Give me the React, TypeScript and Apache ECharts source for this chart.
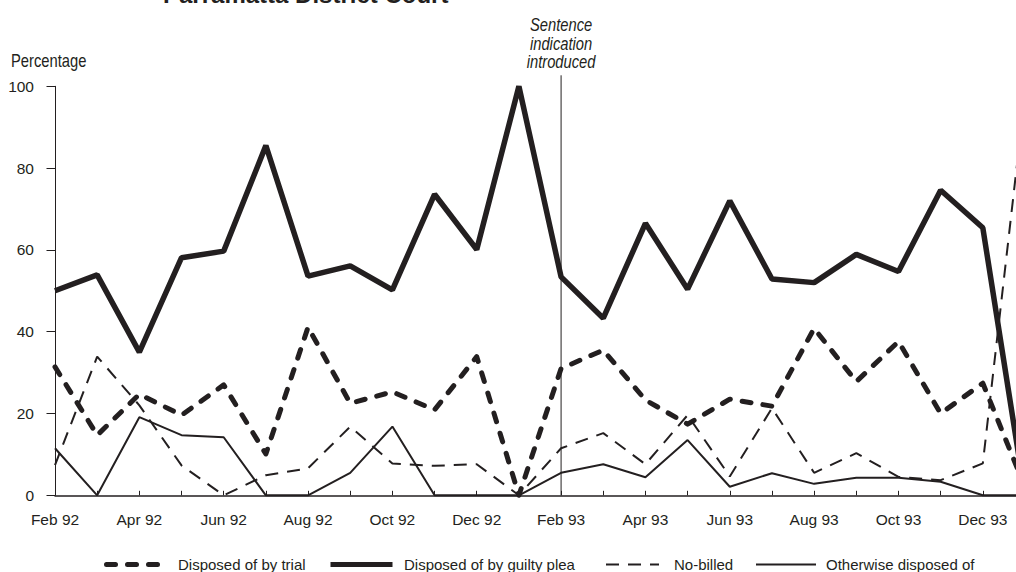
import React, { useEffect, useRef } from "react";
import * as echarts from "echarts";

const months = [
  "Feb 92", "Mar 92", "Apr 92", "May 92", "Jun 92", "Jul 92", "Aug 92", "Sep 92",
  "Oct 92", "Nov 92", "Dec 92", "Jan 93", "Feb 93", "Mar 93", "Apr 93", "May 93",
  "Jun 93", "Jul 93", "Aug 93", "Sep 93", "Oct 93", "Nov 93", "Dec 93", "Jan 94",
];
const trial = [31.4, 14.7, 24.7, 19.6, 27.0, 10.1, 41.1, 22.5, 25.3, 20.9, 33.9, 0,
  31.0, 35.5, 23.3, 17.4, 23.5, 21.8, 40.8, 27.8, 37.6, 20.0, 27.4, 2];
const guiltyPlea = [50.0, 53.9, 35.0, 58.1, 59.7, 85.5, 53.6, 56.1, 50.2, 73.6, 60.1, 100,
  53.4, 43.3, 66.5, 50.4, 72.0, 52.9, 52.0, 58.9, 54.7, 74.6, 65.4, 0];
const noBilled = [7.4, 33.9, 22.0, 7.3, 0, 4.9, 6.6, 16.8, 7.8, 7.2, 7.6, 0,
  11.5, 15.2, 7.6, 19.6, 4.6, 21.3, 5.5, 10.3, 4.5, 3.7, 7.8, 98];
const otherwise = [11.5, 0, 19.1, 14.7, 14.2, 0, 0, 5.5, 16.8, 0, 0, 0,
  5.5, 7.6, 4.4, 13.5, 2.1, 5.4, 2.8, 4.3, 4.3, 3.3, 0, 0];
const yTicks = [0, 20, 40, 60, 80, 100];
const seriesNames = ["Disposed of by trial", "Disposed of by guilty plea", "No-billed", "Otherwise disposed of"];

const INK = "#231f20";
const FONT = "'Liberation Sans', Arial, sans-serif";
const LABEL_SIZE = 15.5;

export default function App() {
  const ref = useRef<HTMLDivElement>(null);
  useEffect(() => {
    document.body.style.margin = "0";
    if (!ref.current) return;
    const chart = echarts.init(ref.current, null, { renderer: "svg" });
    const legendBase = (name: string, left: number, w: number, lw: number, pad: number) => ({
      data: [name],
      left,
      top: 557,
      padding: 0,
      itemWidth: w,
      itemHeight: 14,
      lineStyle: { width: lw },
      itemStyle: { opacity: 0 },
      textStyle: { fontFamily: FONT, fontSize: 15, color: INK, padding: [0, 0, 0, pad] },
    });
    chart.setOption({
      animation: false,
      backgroundColor: "#ffffff",
      grid: { left: 55, top: 86.3, height: 409, width: 970, containLabel: false, outerBoundsMode: "none" },
      legend: [
        legendBase(seriesNames[0], 104, 52, 5, 14.5),
        legendBase(seriesNames[1], 328, 62, 5, 6.5),
        legendBase(seriesNames[2], 605, 53, 2, 10),
        legendBase(seriesNames[3], 755, 60, 2, 5),
      ],
      xAxis: {
        type: "category",
        data: months,
        boundaryGap: false,
        axisLine: { show: true, lineStyle: { color: INK, width: 1.5 } },
        axisTick: { show: true, inside: true, length: 4.5, interval: 0, lineStyle: { color: INK, width: 1 } },
        axisLabel: { interval: 1, fontFamily: FONT, fontSize: LABEL_SIZE, color: INK, margin: 16 },
        splitLine: { show: false },
      },
      yAxis: {
        type: "value",
        min: yTicks[0],
        max: yTicks[yTicks.length - 1],
        interval: 20,
        axisLine: { show: true, lineStyle: { color: INK, width: 1 } },
        axisTick: { show: true, inside: false, length: 8.5, lineStyle: { color: INK, width: 1 } },
        axisLabel: { fontFamily: FONT, fontSize: LABEL_SIZE, color: INK, margin: 21 },
        splitLine: { show: false },
      },
      series: [
        {
          name: seriesNames[0], type: "line", data: trial, symbol: "none", clip: false,
          lineStyle: { color: INK, width: 5, type: [9, 12], cap: "round", join: "round" },
          itemStyle: { color: INK },
        },
        {
          name: seriesNames[1], type: "line", data: guiltyPlea, symbol: "none", clip: false,
          lineStyle: { color: INK, width: 5.5, type: "solid", join: "bevel" },
          itemStyle: { color: INK },
        },
        {
          name: seriesNames[2], type: "line", data: noBilled, symbol: "none", clip: false,
          lineStyle: { color: INK, width: 2, type: [13, 9] },
          itemStyle: { color: INK },
        },
        {
          name: seriesNames[3], type: "line", data: otherwise, symbol: "none", clip: false,
          lineStyle: { color: INK, width: 2, type: "solid" },
          itemStyle: { color: INK },
        },
      ],
    });
    const xLine = chart.convertToPixel({ xAxisIndex: 0 }, "Feb 93") as number;
    const yBottom = chart.convertToPixel({ yAxisIndex: 0 }, 0) as number;
    const yTop = chart.convertToPixel({ yAxisIndex: 0 }, 100) as number;
    chart.setOption({
      graphic: [
        {
          type: "text", left: 163, top: -18,
          style: { text: "Parramatta District Court", fontFamily: FONT, fontWeight: "bold", fontSize: 24, fill: INK },
        },
        {
          type: "text", x: 11, y: 60, scaleX: 0.82,
          style: { text: "Percentage", fontFamily: FONT, fontSize: 18, fill: INK, align: "left", verticalAlign: "middle" },
        },
        {
          type: "text", x: xLine, y: 43, scaleX: 0.82,
          style: {
            text: "Sentence\nindication\nintroduced", fontFamily: FONT, fontStyle: "italic", fontSize: 18,
            lineHeight: 18.3, fill: INK, align: "center", verticalAlign: "middle",
          },
        },
        {
          type: "line", shape: { x1: xLine, y1: yTop - 11, x2: xLine, y2: yBottom },
          style: { stroke: INK, lineWidth: 1 }, z: 10,
        },
      ],
    });
    return () => chart.dispose();
  }, []);
  return <div ref={ref} style={{ width: 1016, height: 572 }} />;
}
